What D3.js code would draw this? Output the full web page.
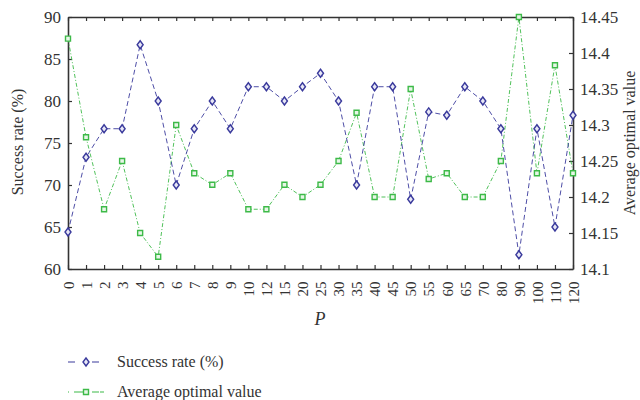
<!DOCTYPE html>
<html><head><meta charset="utf-8">
<script src="https://cdn.jsdelivr.net/npm/d3@7"></script>
<style>body{margin:0;background:#fff}svg text{font-family:"Liberation Serif","DejaVu Serif",serif !important;fill:#333}</style>
</head><body><svg id="c" width="640" height="400"></svg>
<script>
const categories = ["0","1","2","3","4","5","6","7","8","9","10","12","15","20","25","30","35","40","45","50","55","60","65","70","80","90","100","110","120"];
const successRate = [64.4,73.3,76.7,76.7,86.7,80,70,76.7,80,76.7,81.7,81.7,80,81.7,83.3,80,70,81.7,81.7,68.3,78.7,78.3,81.7,80,76.7,61.7,76.7,65,78.3];
const avgOptimal = [14.42,14.283,14.183,14.25,14.15,14.117,14.3,14.233,14.217,14.233,14.183,14.183,14.217,14.2,14.217,14.25,14.317,14.2,14.2,14.35,14.225,14.233,14.2,14.2,14.25,14.45,14.233,14.383,14.233];
const leftTicks = [60,65,70,75,80,85,90];
const rightTicks = [14.1,14.15,14.2,14.25,14.3,14.35,14.4,14.45];
const seriesNames = ["Success rate (%)","Average optimal value"];

const svg = d3.select("#c");
const L=68, R=573, T=17, B=269;
const x = d3.scalePoint().domain(categories).range([L,R]);
const yL = d3.scaleLinear().domain([60,90]).range([B,T]);
const yR = d3.scaleLinear().domain([14.1,14.45]).range([B,T]);
const blue="#3a3a9c", green="#3dba48", axc="#333";
const serif = "Liberation Serif, DejaVu Serif, serif";

// axes
const gB = svg.append("g").attr("transform",`translate(0,${B})`)
  .call(d3.axisBottom(x).tickSizeInner(-4).tickSizeOuter(0).tickPadding(6));
gB.selectAll("text").attr("transform","rotate(-90)").attr("text-anchor","end")
  .attr("dx","-0.5em").attr("dy","0.35em").attr("x",-5).attr("y",0).style("font-size","15px");
const gT = svg.append("g").attr("transform",`translate(0,${T})`)
  .call(d3.axisTop(x).tickSizeInner(-4).tickSizeOuter(0).tickFormat(""));
const gL = svg.append("g").attr("transform",`translate(${L},0)`)
  .call(d3.axisLeft(yL).tickValues(leftTicks).tickSizeInner(-4).tickSizeOuter(0).tickPadding(7));
gL.selectAll("text").style("font-size","17px");
const gR = svg.append("g").attr("transform",`translate(${R},0)`)
  .call(d3.axisRight(yR).tickValues(rightTicks).tickFormat(d=>String(+d.toFixed(2))).tickSizeInner(-4).tickSizeOuter(0).tickPadding(7));
gR.selectAll("text").style("font-size","17px");
[gB,gT,gL,gR].forEach(g=>g.attr("font-family",serif).attr("font-size",null));
svg.selectAll(".domain").attr("stroke",axc).attr("stroke-width",1.6);
svg.selectAll(".tick line").attr("stroke",axc).attr("stroke-width",1.2);
svg.selectAll(".tick text").attr("fill","#333");

// titles
svg.append("text").attr("transform",`translate(23,142) rotate(-90)`).attr("text-anchor","middle")
  .style("font-size","16px").text("Success rate (%)");
svg.append("text").attr("transform",`translate(635,143) rotate(-90)`).attr("text-anchor","middle")
  .style("font-size","16px").text("Average optimal value");
svg.append("text").attr("x",320).attr("y",325).attr("text-anchor","middle")
  .style("font-size","18px").style("font-style","italic").text("P");

// lines
const lineL = d3.line().x((d,i)=>x(categories[i])).y(d=>yL(d));
const lineR = d3.line().x((d,i)=>x(categories[i])).y(d=>yR(d));
svg.append("path").datum(avgOptimal).attr("d",lineR).attr("fill","none")
  .attr("stroke",green).attr("stroke-width",0.9).attr("stroke-dasharray","4,2,1,2");
svg.append("path").datum(successRate).attr("d",lineL).attr("fill","none")
  .attr("stroke",blue).attr("stroke-width",0.9).attr("stroke-dasharray","5,3");

const diamond = (cx,cy)=>`M${cx},${cy-4}L${cx+3},${cy}L${cx},${cy+4}L${cx-3},${cy}Z`;
const square = (cx,cy)=>`M${cx-2.5},${cy-2.5}h5v5h-5Z`;
svg.append("g").selectAll("path").data(avgOptimal).join("path")
  .attr("d",(d,i)=>square(x(categories[i]),yR(d))).attr("fill","#e8f6e8").attr("stroke",green).attr("stroke-width",1.4);
svg.append("g").selectAll("path").data(successRate).join("path")
  .attr("d",(d,i)=>diamond(x(categories[i]),yL(d))).attr("fill","#e8e8f6").attr("stroke",blue).attr("stroke-width",1.4);

// legend
const lg = svg.append("g");
lg.append("line").attr("x1",68).attr("x2",104).attr("y1",362).attr("y2",362)
  .attr("stroke",blue).attr("stroke-width",1.2).attr("stroke-dasharray","7,5,0,12,7");
lg.append("path").attr("d",diamond(86,362)).attr("fill","#e8e8f6").attr("stroke",blue).attr("stroke-width",1.4);
lg.append("text").attr("x",117).attr("y",367).style("font-size","16px").text(seriesNames[0]);
lg.append("line").attr("x1",68).attr("x2",104).attr("y1",392).attr("y2",392)
  .attr("stroke",green).attr("stroke-width",1.2).attr("stroke-dasharray","1,5,12,6,7");
lg.append("path").attr("d",square(86,392)).attr("fill","#e8f6e8").attr("stroke",green).attr("stroke-width",1.4);
lg.append("text").attr("x",117).attr("y",397).style("font-size","16px").text(seriesNames[1]);
</script></body></html>
